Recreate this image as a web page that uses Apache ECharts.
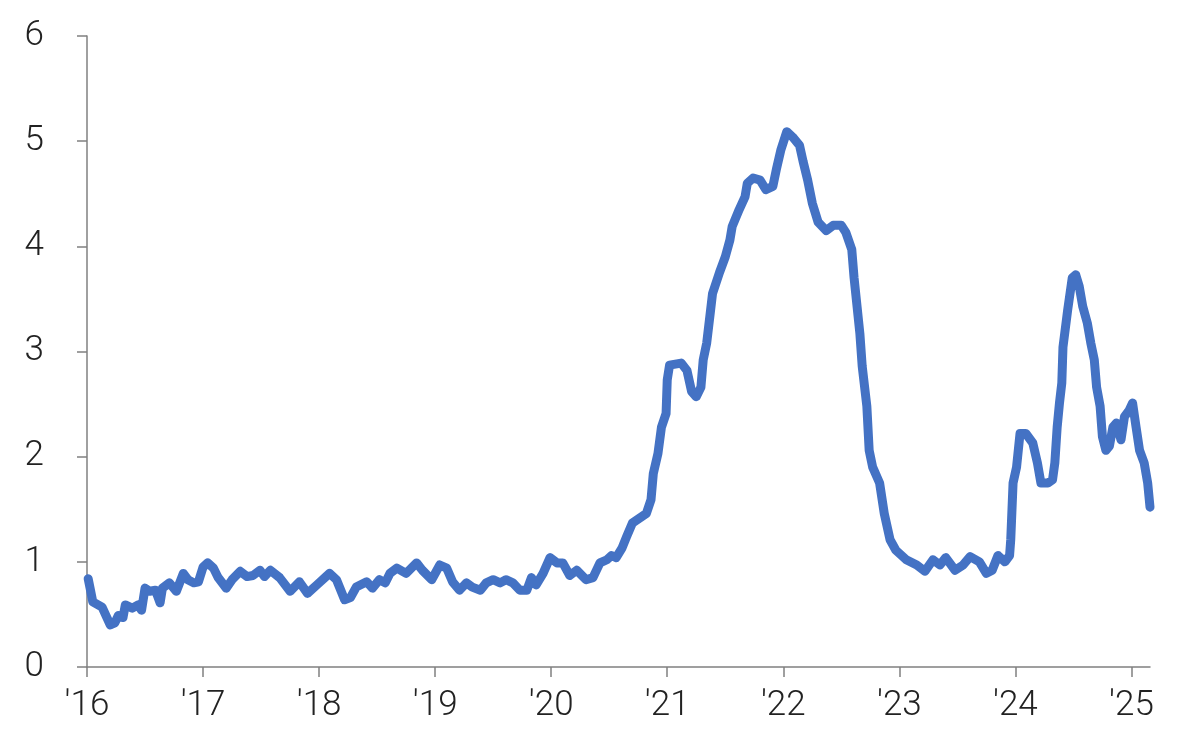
<!DOCTYPE html>
<html>
<head>
<meta charset="utf-8">
<script src="https://cdn.jsdelivr.net/npm/echarts@6/dist/echarts.min.js"></script>
<style>
html,body{margin:0;padding:0;background:#fff;}
#chart{width:1204px;height:742px;}
</style>
</head>
<body>
<div id="chart"></div>
<script>
var years = [2016.01,2016.03,2016.05,2016.13,2016.20,2016.24,2016.27,2016.31,2016.33,2016.39,2016.44,2016.47,2016.50,2016.54,2016.59,2016.63,2016.65,2016.71,2016.77,2016.83,2016.87,2016.92,2016.96,
2017.00,2017.04,2017.09,2017.13,2017.20,2017.25,2017.32,2017.38,2017.43,2017.49,2017.53,2017.58,2017.66,2017.75,2017.83,2017.90,2017.98,
2018.09,2018.15,2018.22,2018.27,2018.32,2018.41,2018.46,2018.52,2018.57,2018.61,2018.67,2018.75,2018.84,2018.89,2018.97,
2019.04,2019.10,2019.15,2019.21,2019.27,2019.32,2019.39,2019.44,2019.50,2019.56,2019.61,2019.67,2019.73,2019.79,2019.83,2019.87,2019.93,2019.99,
2020.05,2020.10,2020.16,2020.22,2020.30,2020.36,2020.42,2020.48,2020.52,2020.56,2020.61,2020.65,2020.70,2020.82,2020.86,2020.88,2020.92,2020.95,2020.99,
2021.00,2021.02,2021.12,2021.17,2021.21,2021.25,2021.29,2021.31,2021.34,2021.37,2021.39,2021.45,2021.50,2021.54,2021.56,2021.62,2021.67,2021.69,2021.74,2021.80,2021.85,2021.91,2021.94,2021.98,
2022.03,2022.08,2022.14,2022.17,2022.21,2022.25,2022.30,2022.37,2022.43,2022.50,2022.54,2022.59,2022.61,2022.66,2022.68,2022.72,2022.74,2022.77,2022.83,2022.87,2022.92,2022.97,
2023.06,2023.15,2023.22,2023.29,2023.35,2023.40,2023.48,2023.55,2023.61,2023.69,2023.75,2023.80,2023.85,2023.91,2023.95,2023.96,2023.98,
2024.01,2024.04,2024.09,2024.15,2024.19,2024.22,2024.28,2024.32,2024.34,2024.36,2024.38,2024.40,2024.41,2024.45,2024.49,2024.52,2024.55,2024.58,2024.62,2024.65,2024.68,2024.70,2024.73,2024.75,2024.78,2024.81,2024.84,2024.87,2024.91,2024.94,2024.98,
2025.01,2025.04,2025.07,2025.11,2025.14,2025.16];
var values = [0.84,0.73,0.62,0.57,0.40,0.42,0.49,0.47,0.59,0.56,0.59,0.54,0.75,0.72,0.73,0.61,0.75,0.80,0.72,0.89,0.83,0.80,0.81,
0.95,0.99,0.94,0.85,0.75,0.83,0.91,0.86,0.87,0.92,0.86,0.92,0.85,0.72,0.81,0.70,0.78,
0.89,0.83,0.64,0.66,0.76,0.81,0.75,0.83,0.80,0.89,0.94,0.89,0.99,0.92,0.83,
0.97,0.94,0.81,0.73,0.80,0.76,0.73,0.80,0.83,0.80,0.83,0.80,0.73,0.73,0.85,0.78,0.89,1.04,
0.99,0.99,0.87,0.92,0.83,0.85,0.99,1.02,1.06,1.04,1.13,1.24,1.37,1.46,1.59,1.84,2.03,2.28,2.41,
2.73,2.87,2.89,2.82,2.62,2.57,2.66,2.92,3.08,3.36,3.55,3.75,3.90,4.06,4.19,4.35,4.47,4.60,4.65,4.63,4.54,4.57,4.73,4.92,
5.09,5.04,4.96,4.81,4.63,4.41,4.23,4.15,4.20,4.20,4.13,3.97,3.70,3.17,2.86,2.48,2.06,1.90,1.75,1.46,1.21,1.11,
1.02,0.97,0.91,1.02,0.97,1.04,0.92,0.97,1.05,1.00,0.89,0.92,1.06,1.00,1.06,1.21,1.75,
1.90,2.22,2.22,2.13,1.94,1.75,1.75,1.78,1.94,2.28,2.51,2.70,3.04,3.39,3.70,3.73,3.62,3.43,3.27,3.08,2.92,2.66,2.48,2.19,2.06,2.10,2.28,2.32,2.16,2.38,2.44,
2.51,2.28,2.06,1.94,1.75,1.52];
var xTickYears = [2016,2017,2018,2019,2020,2021,2022,2023,2024,2025];
var yTicks = [0,1,2,3,4,5,6];

var data = years.map(function(y,i){return [y, values[i]];});
var chart = echarts.init(document.getElementById('chart'));
var fontFam = 'Roboto, "Open Sans", sans-serif';
chart.setOption({
  animation:false,
  grid:{left:87,right:54,top:36,bottom:75,containLabel:false},
  xAxis:{
    type:'value',min:2016,max:2025.16,
    splitLine:{show:false},
    axisLine:{show:true,lineStyle:{color:'#808080',width:1.5}},
    axisTick:{show:true,length:10,customValues:xTickYears,lineStyle:{color:'#808080',width:1.5}},
    axisLabel:{customValues:xTickYears,margin:22,fontSize:35,fontWeight:300,color:'#222',fontFamily:fontFam,
      formatter:function(v){return "'"+String(Math.round(v)).slice(2);}}
  },
  yAxis:{
    type:'value',min:yTicks[0],max:yTicks[yTicks.length-1],interval:1,
    splitLine:{show:false},
    axisLine:{show:true,lineStyle:{color:'#808080',width:1.5}},
    axisTick:{show:true,length:10,lineStyle:{color:'#808080',width:1.5}},
    axisLabel:{margin:43,fontSize:35,fontWeight:300,color:'#222',fontFamily:fontFam}
  },
  series:[{
    type:'line',data:data,showSymbol:false,smooth:false,
    lineStyle:{color:'#4472C4',width:9,cap:'round',join:'round'}
  }]
});
</script>
</body>
</html>
